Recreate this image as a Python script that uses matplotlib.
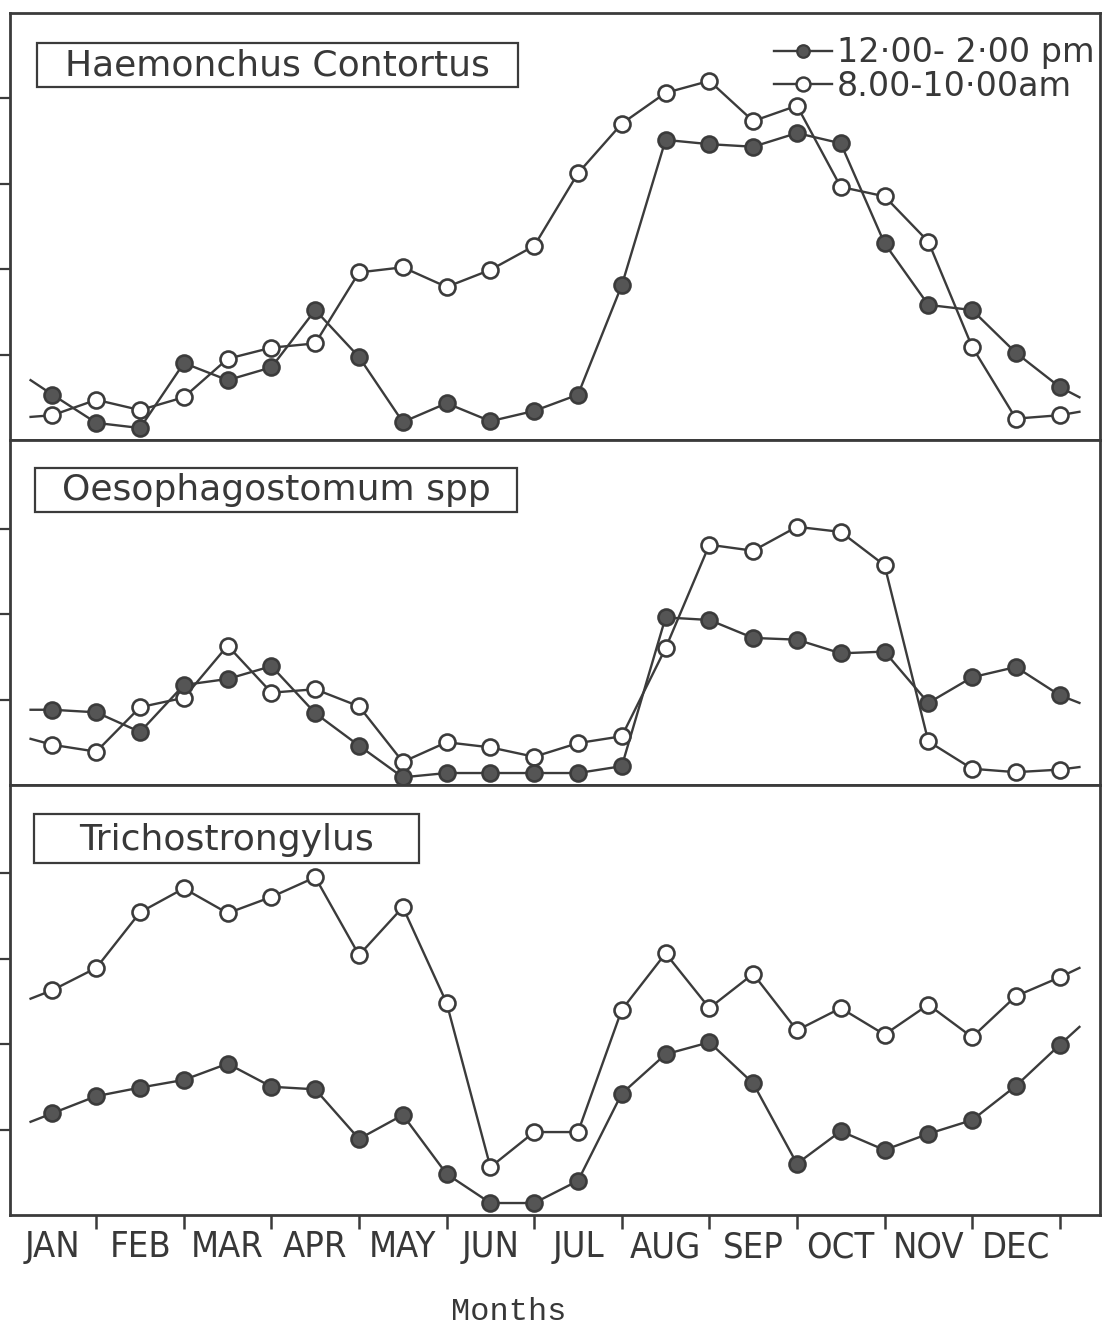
import matplotlib
matplotlib.use("Agg")
import matplotlib.pyplot as plt
from matplotlib.patches import Rectangle
from matplotlib.lines import Line2D

# Month labels; counts were taken twice a month (24 fortnightly samples)
months = ["JAN", "FEB", "MAR", "APR", "MAY", "JUN",
          "JUL", "AUG", "SEP", "OCT", "NOV", "DEC"]

# Haemonchus contortus
haem_noon = [0.53, 0.20, 0.14, 0.90, 0.70, 0.85, 1.52, 0.97, 0.21, 0.43, 0.22, 0.34,
             0.53, 1.81, 3.51, 3.46, 3.43, 3.59, 3.47, 2.30, 1.58, 1.52, 1.02, 0.62]
haem_morning = [0.29, 0.47, 0.35, 0.50, 0.95, 1.08, 1.13, 1.96, 2.02, 1.79, 1.99, 2.27,
                3.12, 3.70, 4.06, 4.20, 3.73, 3.91, 2.96, 2.85, 2.32, 1.09, 0.25, 0.29]
haem_noon_edges = [0.70, 0.50]      # line level entering Jan / leaving Dec
haem_morning_edges = [0.27, 0.33]

# Oesophagostomum spp
oeso_noon = [0.88, 0.85, 0.62, 1.17, 1.24, 1.39, 0.84, 0.46, 0.09, 0.14, 0.14, 0.14,
             0.14, 0.22, 1.96, 1.93, 1.72, 1.70, 1.54, 1.56, 0.96, 1.26, 1.38, 1.05]
oeso_morning = [0.47, 0.39, 0.91, 1.02, 1.63, 1.08, 1.12, 0.92, 0.27, 0.50, 0.44, 0.33,
                0.49, 0.57, 1.60, 2.81, 2.74, 3.02, 2.96, 2.57, 0.51, 0.19, 0.15, 0.18]
oeso_noon_edges = [0.88, 0.96]
oeso_morning_edges = [0.54, 0.21]

# Trichostrongylus
tric_noon = [1.19, 1.39, 1.49, 1.58, 1.77, 1.50, 1.47, 0.89, 1.17, 0.48, 0.14, 0.14,
             0.40, 1.42, 1.88, 2.02, 1.54, 0.60, 0.98, 0.76, 0.95, 1.11, 1.51, 1.99]
tric_morning = [2.63, 2.89, 3.54, 3.82, 3.53, 3.72, 3.95, 3.04, 3.60, 2.48, 0.56, 0.97,
                0.97, 2.40, 3.06, 2.42, 2.82, 2.16, 2.42, 2.11, 2.46, 2.08, 2.56, 2.78]
tric_noon_edges = [1.09, 2.20]
tric_morning_edges = [2.53, 2.89]

panel_titles = ["Haemonchus Contortus", "Oesophagostomum spp", "Trichostrongylus"]
series_labels = ["12·00- 2·00 pm", "8.00-10·00am"]

INK = "#3b3b3b"
FILL = "#555555"
TXT = "#383838"
SANS = ["DejaVu Sans"]

fig = plt.figure(figsize=(11.03, 13.28), dpi=100)
W, H = 1103, 1328

def px_axes(top, bottom, left=10, right=1100):
    return fig.add_axes([left / W, 1 - bottom / H, (right - left) / W, (bottom - top) / H])

ax_top = px_axes(13, 440)
ax_mid = px_axes(440, 785)
ax_bot = px_axes(785, 1215)

unit = 85.5
limits = [(0, 427 / unit), (0, 345 / unit), (0, 430 / unit)]
yticks = [[1, 2, 3, 4], [1, 2, 3], [1, 2, 3, 4]]

data = [
    (haem_noon, haem_noon_edges, haem_morning, haem_morning_edges),
    (oeso_noon, oeso_noon_edges, oeso_morning, oeso_morning_edges),
    (tric_noon, tric_noon_edges, tric_morning, tric_morning_edges),
]

n = len(haem_noon)
xs = list(range(n))
x_in, x_out = -0.5, n - 0.55

def draw_series(ax, vals, edges, filled):
    ax.plot([x_in] + xs + [x_out], [edges[0]] + vals + [edges[1]],
            color=INK, lw=1.7, zorder=2, clip_on=False)
    ax.plot(xs, vals, linestyle="none", marker="o", ms=11.5,
            mfc=FILL if filled else "white", mec=INK, mew=1.9,
            zorder=3, clip_on=False)

for ax, (noon, noon_e, morn, morn_e), ylim, yt in zip(
        [ax_top, ax_mid, ax_bot], data, limits, yticks):
    draw_series(ax, morn, morn_e, False)
    draw_series(ax, noon, noon_e, True)
    ax.set_xlim(-0.97, 23.92)
    ax.set_ylim(*ylim)
    ax.set_yticks(yt)
    ax.set_yticklabels([])
    ax.tick_params(axis="y", direction="out", length=8, width=1.6, color=INK)
    for s in ax.spines.values():
        s.set_color(INK)
        s.set_linewidth(2.0)

for ax in (ax_top, ax_mid):
    ax.set_xticks([])

# month boundaries as ticks, month names centred between them
ax_bot.set_xticks(range(1, n, 2))
ax_bot.set_xticklabels([])
ax_bot.set_xticks(range(0, n, 2), minor=True)
ax_bot.set_xticklabels(months, minor=True, fontsize=26, color=TXT,
                       family=SANS, fontstretch="condensed")
ax_bot.tick_params(axis="x", which="major", direction="out", length=10,
                   width=1.8, color=INK)
ax_bot.tick_params(axis="x", which="minor", length=0, pad=11)

# boxed panel titles (boxes given in panel pixels)
title_boxes = [
    (ax_top, (27, 87, 508, 43), 75),
    (ax_mid, (25, 512, 507, 468), 500),
    (ax_bot, (24, 863, 409, 814), 850),
]
panel_px = [(13, 440), (440, 785), (785, 1215)]
for (ax, (bx0, by_bot, bx1, by_top), base), (ptop, pbot), title in zip(
        title_boxes, panel_px, panel_titles):
    h = pbot - ptop
    x0 = bx0 / 1090
    y0 = (pbot - by_bot) / h
    ax.add_patch(Rectangle((x0, y0), (bx1 - bx0) / 1090, (by_bot - by_top) / h,
                           transform=ax.transAxes, fill=False, ec=INK, lw=1.6,
                           zorder=4))
    ax.text((x0 + bx1 / 1090) / 2, (pbot - base) / h, title,
            transform=ax.transAxes, ha="center", va="baseline",
            fontsize=26, color=TXT, family=SANS)

h_noon = Line2D([], [], color=INK, lw=1.7, marker="o", ms=9, mfc=FILL, mec=INK, mew=1.6)
h_morn = Line2D([], [], color=INK, lw=1.7, marker="o", ms=10, mfc="white", mec=INK, mew=1.8)
leg = ax_top.legend([h_noon, h_morn], series_labels, loc="upper right",
                    bbox_to_anchor=(0.995, 0.945), frameon=False, borderpad=0,
                    borderaxespad=0, handlelength=1.75, handletextpad=0.15,
                    labelspacing=0.02, numpoints=1,
                    prop={"family": SANS, "size": 24})
for t in leg.get_texts():
    t.set_color(TXT)

fig.text(509 / W, 1 - 1320 / H, "Months", ha="center", va="baseline",
         fontsize=23, color=TXT, family=["Liberation Mono", "DejaVu Sans Mono"])

fig.savefig("out.png", dpi=100, facecolor="white")
